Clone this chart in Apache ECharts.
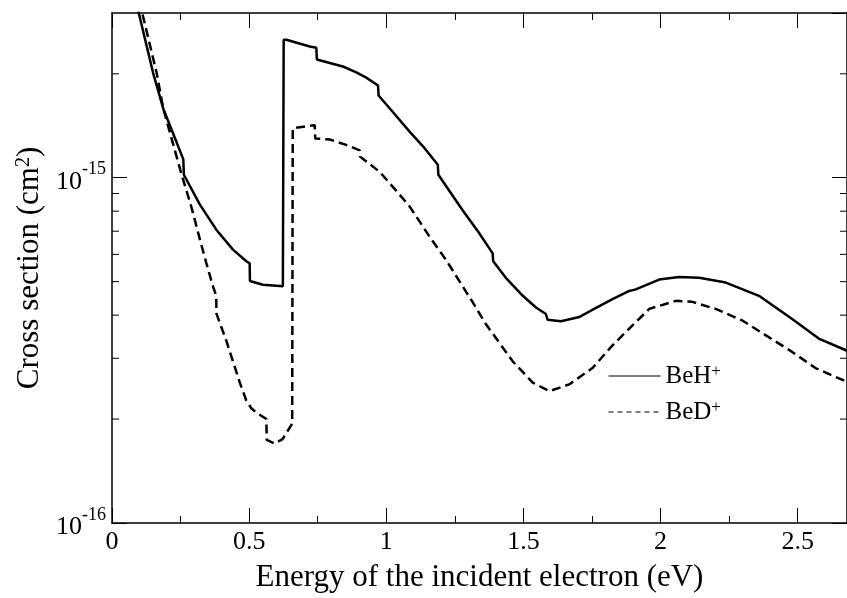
<!DOCTYPE html>
<html>
<head>
<meta charset="utf-8">
<script src="https://cdn.jsdelivr.net/npm/echarts@6/dist/echarts.min.js"></script>
<style>
    html, body { margin: 0; padding: 0; background: #fff; }
    #chart-wrap { width: 847px; height: 598px; }
</style>
</head>
<body>
<div id="chart-wrap"></div>
<script>
// 数据: 能量 (eV) 与截面 (cm^2)
var energyBeH = [0.066, 0.095, 0.150, 0.187, 0.225, 0.260, 0.262, 0.320, 0.381, 0.441, 0.490, 0.502, 0.503, 0.550, 0.623,
    0.626, 0.636, 0.721, 0.745, 0.747, 0.794, 0.842, 0.891, 0.927, 0.970, 0.972, 1.024, 1.085, 1.139, 1.188,
    1.190, 1.279, 1.340, 1.388, 1.390, 1.436, 1.498, 1.546, 1.582, 1.588, 1.637, 1.704, 1.758, 1.825, 1.886,
    1.910, 1.995, 2.068, 2.141, 2.238, 2.359, 2.480, 2.577, 2.674, 2.700];
var sigmaBeH = [4.24e-15, 3.06e-15, 2.01e-15, 1.585e-15, 1.33e-15, 1.13e-15, 1.02e-15, 8.37e-16, 7.06e-16, 6.19e-16, 5.73e-16, 5.65e-16, 5.02e-16, 4.90e-16, 4.85e-16,
    2.51e-15, 2.51e-15, 2.40e-15, 2.38e-15, 2.20e-15, 2.15e-15, 2.10e-15, 2.02e-15, 1.95e-15, 1.85e-15, 1.73e-15, 1.55e-15, 1.36e-15, 1.22e-15, 1.09e-15,
    1.02e-15, 8.04e-16, 6.89e-16, 6.04e-16, 5.73e-16, 5.13e-16, 4.55e-16, 4.21e-16, 4.03e-16, 3.88e-16, 3.84e-16, 3.95e-16, 4.17e-16, 4.45e-16, 4.70e-16,
    4.75e-16, 5.07e-16, 5.16e-16, 5.13e-16, 4.97e-16, 4.55e-16, 3.90e-16, 3.42e-16, 3.17e-16, 3.10e-16];

var energyBeD = [0.076, 0.108, 0.163, 0.187, 0.254, 0.290, 0.320, 0.344, 0.368, 0.380, 0.381, 0.418, 0.441, 0.466, 0.490,
    0.508, 0.526, 0.563, 0.564, 0.593, 0.622, 0.657, 0.659, 0.739, 0.741, 0.794, 0.854, 0.903, 0.905, 0.976, 1.036,
    1.085, 1.158, 1.218, 1.315, 1.363, 1.461, 1.534, 1.595, 1.667, 1.752, 1.825, 1.910, 1.959, 2.056, 2.116,
    2.201, 2.298, 2.383, 2.480, 2.565, 2.662, 2.700];
var sigmaBeD = [3.9e-15, 3.05e-15, 2.01e-15, 1.585e-15, 1.02e-15, 8.2e-16, 6.65e-16, 5.66e-16, 4.85e-16, 4.55e-16, 4.04e-16, 3.35e-16, 2.94e-16, 2.55e-16, 2.26e-16,
    2.15e-16, 2.09e-16, 2.00e-16, 1.74e-16, 1.70e-16, 1.75e-16, 1.94e-16, 1.39e-15, 1.42e-15, 1.30e-15, 1.29e-15, 1.245e-15, 1.20e-15, 1.15e-15, 1.04e-15, 9.18e-16,
    8.26e-16, 6.75e-16, 5.78e-16, 4.36e-16, 3.77e-16, 2.94e-16, 2.55e-16, 2.41e-16, 2.52e-16, 2.81e-16, 3.27e-16, 3.82e-16, 4.17e-16, 4.40e-16, 4.37e-16,
    4.17e-16, 3.86e-16, 3.50e-16, 3.13e-16, 2.81e-16, 2.60e-16, 2.55e-16];

// y轴次刻度 (对数轴)
var minorTicksY = [2e-16, 3e-16, 4e-16, 5e-16, 6e-16, 7e-16, 8e-16, 9e-16, 2e-15];

var xMin = 0, xMax = 2.68;
var yMin = 1e-16, yMax = 3e-15;

function zip(xs, ys) {
    var out = [];
    for (var i = 0; i < xs.length; i++) {
        out.push([xs[i], ys[i]]);
    }
    return out;
}

var FONT = 'Liberation Serif';
var chart = echarts.init(document.getElementById('chart-wrap'));

var option = {
    animation: false,
    backgroundColor: '#fff',
    grid: { left: 112, right: -1, top: 13, bottom: 67 },
    legend: {
        orient: 'vertical',
        left: 608,
        top: 363,
        padding: 0,
        itemGap: 10,
        itemWidth: 52,
        itemHeight: 14,
        itemStyle: { opacity: 0 },
        textStyle: {
            fontFamily: FONT,
            color: '#000',
            rich: {
                b: { fontFamily: FONT, fontSize: 25, color: '#000', lineHeight: 26, verticalAlign: 'bottom' },
                s: { fontFamily: FONT, fontSize: 17, color: '#000', lineHeight: 14, verticalAlign: 'top' }
            }
        },
        formatter: function (name) {
            return '{b|' + name + '}{s|+}';
        },
        data: [
            { name: 'BeH', lineStyle: { width: 1, type: 'solid', color: '#000' } },
            { name: 'BeD', lineStyle: { width: 1, type: [5, 4], color: '#000' } }
        ]
    },
    xAxis: [{
        type: 'value',
        min: xMin,
        max: xMax,
        interval: 0.5,
        position: 'bottom',
        name: 'Energy of the incident electron (eV)',
        nameLocation: 'middle',
        nameGap: 39,
        nameTextStyle: { fontFamily: FONT, fontSize: 31, color: '#000' },
        axisLine: { show: true, onZero: false, lineStyle: { color: '#000', width: 1.5 } },
        axisTick: { show: true, inside: true, length: 15, lineStyle: { color: '#000', width: 1 } },
        minorTick: { show: true, splitNumber: 2, length: 7, lineStyle: { color: '#000', width: 1 } },
        axisLabel: { fontFamily: FONT, fontSize: 26, color: '#000', margin: 6, showMaxLabel: false },
        splitLine: { show: false }
    }, {
        type: 'value',
        min: xMin,
        max: xMax,
        interval: 0.5,
        position: 'top',
        axisLine: { show: true, onZero: false, lineStyle: { color: '#000', width: 1.5 } },
        axisTick: { show: true, inside: true, length: 15, lineStyle: { color: '#000', width: 1 } },
        minorTick: { show: true, splitNumber: 2, length: 7, lineStyle: { color: '#000', width: 1 } },
        axisLabel: { show: false },
        splitLine: { show: false }
    }],
    yAxis: [{
        type: 'log',
        logBase: 10,
        min: yMin,
        max: yMax,
        position: 'left',
        name: 'Cross section (cm{e|2})',
        nameLocation: 'middle',
        nameGap: 60,
        nameRotate: 90,
        nameTextStyle: {
            fontFamily: FONT, fontSize: 31, color: '#000',
            rich: {
                e: { fontFamily: FONT, fontSize: 20, color: '#000', verticalAlign: 'top', lineHeight: 24 }
            }
        },
        axisLine: { show: true, onZero: false, lineStyle: { color: '#000', width: 1.5 } },
        axisTick: { show: true, inside: true, length: 15, lineStyle: { color: '#000', width: 1 } },
        axisLabel: {
            margin: 6,
            showMaxLabel: false,
            formatter: function (value) {
                var p = Math.round(Math.log10(value));
                return '{b|10}{e|' + p + '}';
            },
            rich: {
                b: { fontFamily: FONT, fontSize: 26, color: '#000', lineHeight: 34, verticalAlign: 'bottom' },
                e: { fontFamily: FONT, fontSize: 18, color: '#000', lineHeight: 26, verticalAlign: 'top' }
            }
        },
        splitLine: { show: false }
    }, {
        type: 'log',
        logBase: 10,
        min: yMin,
        max: yMax,
        position: 'right',
        axisLine: { show: true, onZero: false, lineStyle: { color: '#000', width: 1.5 } },
        axisTick: { show: true, inside: true, length: 15, lineStyle: { color: '#000', width: 1 } },
        axisLabel: { show: false },
        splitLine: { show: false }
    }],
    series: [{
        name: 'BeH',
        type: 'line',
        showSymbol: false,
        symbol: 'none',
        clip: true,
        color: '#000',
        lineStyle: { color: '#000', width: 2.5, type: 'solid' },
        data: zip(energyBeH, sigmaBeH)
    }, {
        name: 'BeD',
        type: 'line',
        showSymbol: false,
        symbol: 'none',
        clip: true,
        color: '#000',
        lineStyle: { color: '#000', width: 2.5, type: [9, 5] },
        data: zip(energyBeD, sigmaBeD)
    }, {
        // 对数轴的次刻度, 左右两侧
        name: 'minorTicks',
        type: 'custom',
        silent: true,
        clip: false,
        data: minorTicksY.map(function (v) { return [xMin, v]; }),
        renderItem: function (params, api) {
            var p = api.coord([api.value(0), api.value(1)]);
            var cs = params.coordSys;
            var style = { stroke: '#000', lineWidth: 1 };
            return {
                type: 'group',
                children: [{
                    type: 'line',
                    shape: { x1: cs.x, y1: p[1], x2: cs.x + 7, y2: p[1] },
                    style: style
                }, {
                    type: 'line',
                    shape: { x1: cs.x + cs.width - 7, y1: p[1], x2: cs.x + cs.width, y2: p[1] },
                    style: style
                }]
            };
        }
    }]
};

chart.setOption(option);
</script>
</body>
</html>
